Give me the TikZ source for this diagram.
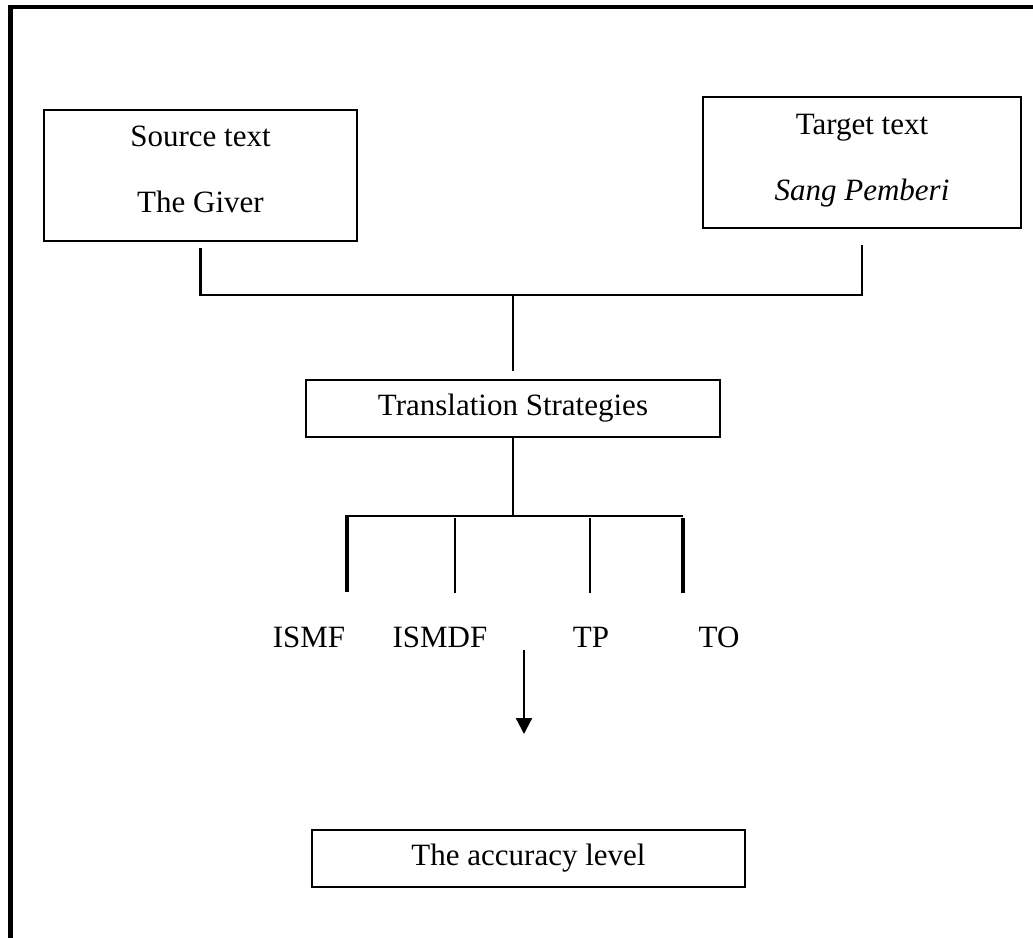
\documentclass[tikz,border=0pt]{standalone}
\usepackage{fontspec}
\setmainfont{Liberation Serif}
\usetikzlibrary{arrows.meta}
\begin{document}
\begin{tikzpicture}[x=1pt,y=-1pt,
  box/.style={draw,line width=2.2pt,inner sep=0pt,align=center,font=\fontsize{31}{66}\selectfont},
  lbl/.style={inner sep=0pt,font=\fontsize{31}{37}\selectfont},
  conn/.style={line width=2.3pt},
  thickleg/.style={line width=3.4pt},
  frameline/.style={line width=4.8pt,line join=miter}]
\useasboundingbox (0,0) rectangle (1033,937);
% outer frame
\coordinate (fTL) at (10.5,7);
\coordinate (fTR) at (1035,7);
\coordinate (fBL) at (10.5,940);
\draw[frameline] (fBL) -- (fTL) -- (fTR);
% boxes
\node[box,minimum width=313pt,minimum height=131pt] (src) at (200.5,175.5)
  {Source text\\The Giver\rule[-13pt]{0pt}{0pt}};
\node[box,minimum width=318pt,minimum height=131pt] (tgt) at (862,162.5)
  {Target text\\\textit{Sang Pemberi}\rule[-11pt]{0pt}{0pt}};
\node[box,minimum width=414pt,minimum height=57pt] (ts) at (513,408.5) {Translation Strategies};
\node[box,minimum width=433pt,minimum height=57pt] (acc) at (528.5,858.5) {The accuracy level};
% bracket joining source and target
\coordinate (bj) at (513,295);
\draw[conn] ([yshift=-6pt]src.south) -- (src.south |- bj) -- (tgt.south |- bj) -- ([yshift=-16pt]tgt.south);
\draw[conn] (bj) -- ([yshift=8pt]ts.north);
% strategies fork
\coordinate (sj) at (513,516);
\coordinate (h1) at (347,516);
\coordinate (h2) at (455,518);
\coordinate (h3) at (590,518);
\coordinate (h4) at (683,518);
\coordinate (e1) at (347,592);
\coordinate (e2) at (455,593);
\coordinate (e3) at (590,593);
\coordinate (e4) at (683,593);
\draw[conn] (ts.south) -- (sj);
\draw[conn] (h1) -- (h4 |- sj);
\draw[thickleg] ([yshift=1.2pt]h1) -- (e1);
\draw[conn] (h2) -- (e2);
\draw[conn] (h3) -- (e3);
\draw[thickleg] (h4) -- (e4);
% labels
\node[lbl] (ismf) at (309,637) {ISMF};
\node[lbl] (ismdf) at (440,637) {ISMDF};
\node[lbl] (tp) at (591,637) {TP};
\node[lbl] (to) at (719,637) {TO};
% arrow
\coordinate (as) at (524,650);
\coordinate (ae) at (524,734);
\draw[conn,-{Triangle[width=16pt,length=16pt]}] (as) -- (ae);
\end{tikzpicture}
\end{document}
